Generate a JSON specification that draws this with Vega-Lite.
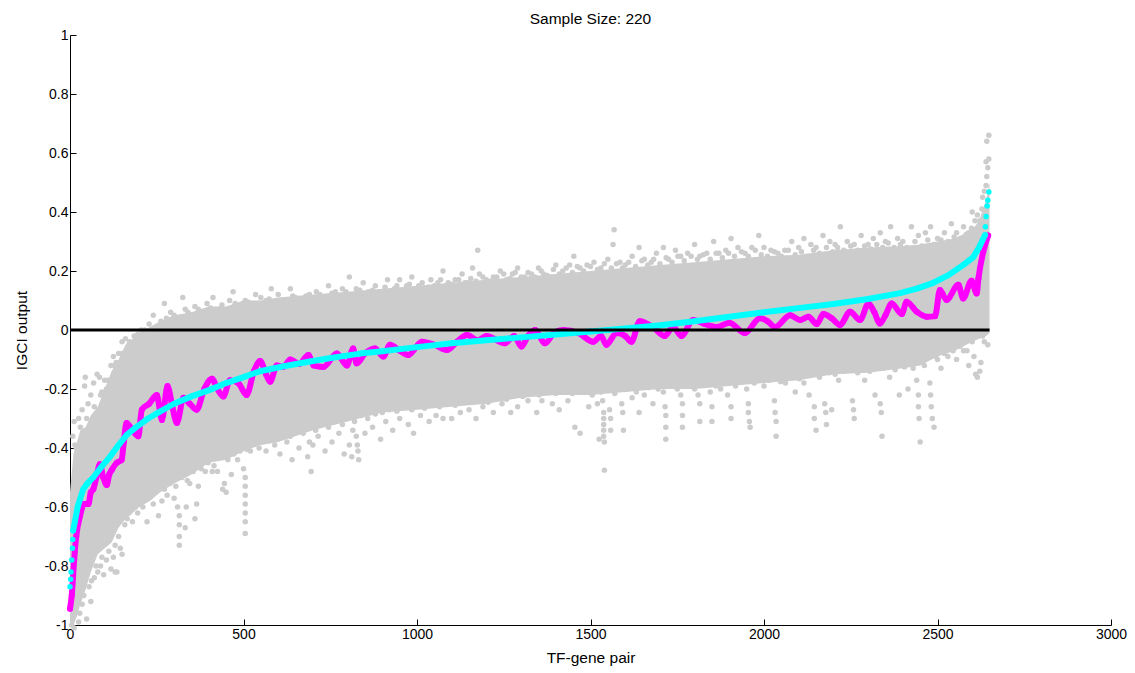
{"$schema":"https://vega.github.io/schema/vega-lite/v6.json","width":1041,"height":590,"autosize":"none","padding":{"left":70,"top":35,"right":24,"bottom":48},"background":"white",
"title":{"text":"Sample Size: 220","font":"Liberation Sans","fontSize":15.5,"fontWeight":"normal","color":"#000","offset":1,"anchor":"middle"},
"config":{"view":{"stroke":null},"axis":{"grid":false,"domainColor":"#000","tickColor":"#000","labelColor":"#000","titleColor":"#000","labelFont":"Liberation Sans","titleFont":"Liberation Sans","labelFontSize":14,"titleFontSize":15.5,"titleFontWeight":"normal","tickSize":-6,"labelPadding":8,"labelFlush":false,"labelOverlap":false}},
"datasets":{
"band":[{"p":0,"lo":-1,"hi":-0.55},{"p":10,"lo":-1,"hi":-0.42},{"p":20,"lo":-0.97,"hi":-0.38},{"p":30,"lo":-0.93,"hi":-0.34},{"p":45,"lo":-0.88,"hi":-0.33},{"p":60,"lo":-0.82,"hi":-0.29},{"p":80,"lo":-0.76,"hi":-0.26},{"p":100,"lo":-0.74,"hi":-0.2},{"p":120,"lo":-0.72,"hi":-0.14},{"p":140,"lo":-0.67,"hi":-0.1},{"p":160,"lo":-0.64,"hi":-0.05},{"p":180,"lo":-0.62,"hi":-0.03},{"p":200,"lo":-0.6,"hi":-0.01},{"p":230,"lo":-0.58,"hi":0.01},{"p":260,"lo":-0.55,"hi":0.03},{"p":300,"lo":-0.52,"hi":0.05},{"p":350,"lo":-0.49,"hi":0.06},{"p":400,"lo":-0.45,"hi":0.08},{"p":450,"lo":-0.44,"hi":0.08},{"p":500,"lo":-0.41,"hi":0.1},{"p":550,"lo":-0.39,"hi":0.1},{"p":600,"lo":-0.38,"hi":0.11},{"p":700,"lo":-0.34,"hi":0.12},{"p":800,"lo":-0.31,"hi":0.13},{"p":900,"lo":-0.28,"hi":0.14},{"p":1000,"lo":-0.27,"hi":0.15},{"p":1100,"lo":-0.26,"hi":0.16},{"p":1200,"lo":-0.25,"hi":0.17},{"p":1300,"lo":-0.23,"hi":0.18},{"p":1400,"lo":-0.22,"hi":0.19},{"p":1500,"lo":-0.22,"hi":0.2},{"p":1600,"lo":-0.21,"hi":0.21},{"p":1700,"lo":-0.2,"hi":0.22},{"p":1800,"lo":-0.2,"hi":0.23},{"p":1900,"lo":-0.19,"hi":0.24},{"p":2000,"lo":-0.18,"hi":0.25},{"p":2100,"lo":-0.17,"hi":0.255},{"p":2200,"lo":-0.15,"hi":0.27},{"p":2300,"lo":-0.145,"hi":0.28},{"p":2400,"lo":-0.13,"hi":0.285},{"p":2450,"lo":-0.12,"hi":0.29},{"p":2500,"lo":-0.09,"hi":0.3},{"p":2550,"lo":-0.07,"hi":0.31},{"p":2600,"lo":-0.04,"hi":0.34},{"p":2620,"lo":-0.03,"hi":0.37},{"p":2640,"lo":-0.02,"hi":0.44},{"p":2650,"lo":-0.01,"hi":0.5}],
"gray":[{"x":8,"y":-0.36},{"x":12,"y":-0.31},{"x":18,"y":-0.4},{"x":25,"y":-0.3},{"x":35,"y":-0.27},{"x":42,"y":-0.19},{"x":44,"y":-0.16},{"x":52,"y":-0.25},{"x":60,"y":-0.22},{"x":68,"y":-0.18},{"x":78,"y":-0.15},{"x":85,"y":-0.16},{"x":92,"y":-0.21},{"x":100,"y":-0.17},{"x":110,"y":-0.17},{"x":118,"y":-0.12},{"x":125,"y":-0.09},{"x":133,"y":-0.11},{"x":140,"y":-0.08},{"x":150,"y":-0.04},{"x":160,"y":-0.03},{"x":170,"y":-0.05},{"x":185,"y":-0.02},{"x":205,"y":0},{"x":228,"y":0.02},{"x":240,"y":0.05},{"x":262,"y":0.03},{"x":272,"y":0.09},{"x":290,"y":0.06},{"x":300,"y":0.05},{"x":325,"y":0.11},{"x":340,"y":0.06},{"x":360,"y":0.08},{"x":378,"y":0.04},{"x":395,"y":0.09},{"x":412,"y":0.11},{"x":430,"y":0.07},{"x":445,"y":0.06},{"x":460,"y":0.1},{"x":470,"y":0.13},{"x":485,"y":0.08},{"x":505,"y":0.1},{"x":520,"y":0.09},{"x":535,"y":0.12},{"x":550,"y":0.11},{"x":565,"y":0.1},{"x":580,"y":0.14},{"x":600,"y":0.12},{"x":615,"y":0.1},{"x":635,"y":0.14},{"x":650,"y":0.11},{"x":670,"y":0.1},{"x":690,"y":0.12},{"x":710,"y":0.13},{"x":730,"y":0.11},{"x":745,"y":0.15},{"x":765,"y":0.13},{"x":785,"y":0.14},{"x":805,"y":0.18},{"x":825,"y":0.14},{"x":845,"y":0.16},{"x":860,"y":0.13},{"x":880,"y":0.15},{"x":900,"y":0.13},{"x":915,"y":0.17},{"x":935,"y":0.14},{"x":950,"y":0.17},{"x":970,"y":0.15},{"x":985,"y":0.18},{"x":1005,"y":0.15},{"x":1025,"y":0.14},{"x":1040,"y":0.17},{"x":1060,"y":0.16},{"x":1075,"y":0.2},{"x":1090,"y":0.16},{"x":1110,"y":0.17},{"x":1130,"y":0.19},{"x":1145,"y":0.16},{"x":1160,"y":0.21},{"x":1175,"y":0.27},{"x":1180,"y":0.19},{"x":1200,"y":0.17},{"x":1220,"y":0.18},{"x":1240,"y":0.2},{"x":1258,"y":0.17},{"x":1275,"y":0.19},{"x":1290,"y":0.21},{"x":1310,"y":0.18},{"x":1330,"y":0.19},{"x":1350,"y":0.21},{"x":1365,"y":0.19},{"x":1385,"y":0.18},{"x":1400,"y":0.22},{"x":1420,"y":0.2},{"x":1440,"y":0.22},{"x":1452,"y":0.25},{"x":1470,"y":0.21},{"x":1490,"y":0.22},{"x":1510,"y":0.23},{"x":1530,"y":0.21},{"x":1550,"y":0.24},{"x":1568,"y":0.34},{"x":1565,"y":0.29},{"x":1585,"y":0.23},{"x":1600,"y":0.22},{"x":1620,"y":0.25},{"x":1640,"y":0.28},{"x":1655,"y":0.24},{"x":1675,"y":0.23},{"x":1690,"y":0.26},{"x":1710,"y":0.28},{"x":1725,"y":0.24},{"x":1745,"y":0.27},{"x":1760,"y":0.25},{"x":1780,"y":0.26},{"x":1800,"y":0.29},{"x":1815,"y":0.25},{"x":1835,"y":0.26},{"x":1855,"y":0.3},{"x":1870,"y":0.26},{"x":1890,"y":0.27},{"x":1905,"y":0.31},{"x":1925,"y":0.28},{"x":1945,"y":0.26},{"x":1965,"y":0.28},{"x":1985,"y":0.32},{"x":2000,"y":0.28},{"x":2020,"y":0.27},{"x":2040,"y":0.26},{"x":2060,"y":0.27},{"x":2080,"y":0.3},{"x":2100,"y":0.28},{"x":2115,"y":0.31},{"x":2135,"y":0.29},{"x":2150,"y":0.28},{"x":2170,"y":0.32},{"x":2190,"y":0.3},{"x":2205,"y":0.29},{"x":2220,"y":0.35},{"x":2240,"y":0.3},{"x":2260,"y":0.29},{"x":2280,"y":0.32},{"x":2300,"y":0.29},{"x":2315,"y":0.31},{"x":2335,"y":0.33},{"x":2350,"y":0.3},{"x":2365,"y":0.35},{"x":2385,"y":0.31},{"x":2400,"y":0.3},{"x":2425,"y":0.35},{"x":2445,"y":0.32},{"x":2465,"y":0.33},{"x":2480,"y":0.35},{"x":2500,"y":0.31},{"x":2520,"y":0.33},{"x":2540,"y":0.36},{"x":2555,"y":0.33},{"x":2575,"y":0.35},{"x":2590,"y":0.33},{"x":2600,"y":0.4},{"x":2608,"y":0.37},{"x":2622,"y":0.37},{"x":2628,"y":0.41},{"x":2630,"y":0.45},{"x":2640,"y":0.49},{"x":2642,"y":0.52},{"x":2645,"y":0.55},{"x":2640,"y":0.57},{"x":2648,"y":0.58},{"x":2648,"y":0.66},{"x":2642,"y":0.64},
{"x":5,"y":-1},{"x":12,"y":-1.01},{"x":25,"y":-0.99},{"x":28,"y":-0.96},{"x":48,"y":-0.98},{"x":35,"y":-0.93},{"x":60,"y":-0.92},{"x":55,"y":-0.87},{"x":70,"y":-0.84},{"x":80,"y":-0.82},{"x":88,"y":-0.8},{"x":97,"y":-0.83},{"x":118,"y":-0.81},{"x":130,"y":-0.82},{"x":135,"y":-0.82},{"x":105,"y":-0.78},{"x":125,"y":-0.77},{"x":145,"y":-0.74},{"x":150,"y":-0.76},{"x":170,"y":-0.62},{"x":180,"y":-0.65},{"x":195,"y":-0.62},{"x":210,"y":-0.6},{"x":222,"y":-0.65},{"x":240,"y":-0.59},{"x":255,"y":-0.63},{"x":265,"y":-0.58},{"x":280,"y":-0.56},{"x":310,"y":-0.6},{"x":315,"y":-0.63},{"x":315,"y":-0.66},{"x":315,"y":-0.7},{"x":315,"y":-0.73},{"x":335,"y":-0.6},{"x":332,"y":-0.67},{"x":365,"y":-0.59},{"x":360,"y":-0.64},{"x":300,"y":-0.57},{"x":345,"y":-0.52},{"x":370,"y":-0.53},{"x":390,"y":-0.48},{"x":410,"y":-0.48},{"x":425,"y":-0.48},{"x":440,"y":-0.54},{"x":450,"y":-0.55},{"x":445,"y":-0.52},{"x":465,"y":-0.49},{"x":483,"y":-0.44},{"x":500,"y":-0.47},{"x":505,"y":-0.5},{"x":505,"y":-0.53},{"x":505,"y":-0.56},{"x":505,"y":-0.59},{"x":505,"y":-0.62},{"x":505,"y":-0.65},{"x":505,"y":-0.69},{"x":520,"y":-0.41},{"x":545,"y":-0.4},{"x":565,"y":-0.41},{"x":590,"y":-0.39},{"x":605,"y":-0.42},{"x":625,"y":-0.38},{"x":640,"y":-0.44},{"x":660,"y":-0.4},{"x":690,"y":-0.38},{"x":695,"y":-0.48},{"x":685,"y":-0.43},{"x":700,"y":-0.39},{"x":715,"y":-0.36},{"x":735,"y":-0.41},{"x":755,"y":-0.38},{"x":775,"y":-0.35},{"x":790,"y":-0.42},{"x":805,"y":-0.39},{"x":815,"y":-0.34},{"x":812,"y":-0.43},{"x":825,"y":-0.36},{"x":828,"y":-0.39},{"x":830,"y":-0.41},{"x":832,"y":-0.44},{"x":850,"y":-0.35},{"x":872,"y":-0.33},{"x":895,"y":-0.37},{"x":910,"y":-0.31},{"x":930,"y":-0.34},{"x":950,"y":-0.3},{"x":975,"y":-0.32},{"x":990,"y":-0.35},{"x":1010,"y":-0.29},{"x":1035,"y":-0.31},{"x":1055,"y":-0.29},{"x":1075,"y":-0.3},{"x":1100,"y":-0.3},{"x":1125,"y":-0.28},{"x":1150,"y":-0.27},{"x":1170,"y":-0.3},{"x":1190,"y":-0.26},{"x":1220,"y":-0.28},{"x":1245,"y":-0.25},{"x":1270,"y":-0.28},{"x":1290,"y":-0.26},{"x":1320,"y":-0.24},{"x":1345,"y":-0.28},{"x":1360,"y":-0.24},{"x":1390,"y":-0.25},{"x":1410,"y":-0.27},{"x":1435,"y":-0.24},{"x":1455,"y":-0.33},{"x":1470,"y":-0.35},{"x":1495,"y":-0.26},{"x":1520,"y":-0.25},{"x":1535,"y":-0.24},{"x":1538,"y":-0.28},{"x":1538,"y":-0.3},{"x":1538,"y":-0.32},{"x":1538,"y":-0.34},{"x":1538,"y":-0.36},{"x":1540,"y":-0.38},{"x":1555,"y":-0.27},{"x":1558,"y":-0.3},{"x":1558,"y":-0.34},{"x":1525,"y":-0.37},{"x":1540,"y":-0.475},{"x":1590,"y":-0.25},{"x":1593,"y":-0.28},{"x":1595,"y":-0.34},{"x":1620,"y":-0.23},{"x":1640,"y":-0.28},{"x":1655,"y":-0.22},{"x":1680,"y":-0.25},{"x":1710,"y":-0.21},{"x":1715,"y":-0.26},{"x":1717,"y":-0.29},{"x":1717,"y":-0.33},{"x":1717,"y":-0.37},{"x":1760,"y":-0.22},{"x":1765,"y":-0.25},{"x":1765,"y":-0.29},{"x":1765,"y":-0.33},{"x":1810,"y":-0.22},{"x":1815,"y":-0.25},{"x":1815,"y":-0.31},{"x":1845,"y":-0.21},{"x":1850,"y":-0.26},{"x":1850,"y":-0.31},{"x":1875,"y":-0.2},{"x":1895,"y":-0.22},{"x":1905,"y":-0.26},{"x":1905,"y":-0.3},{"x":1950,"y":-0.2},{"x":1955,"y":-0.25},{"x":1955,"y":-0.28},{"x":1958,"y":-0.31},{"x":1960,"y":-0.33},{"x":2000,"y":-0.19},{"x":2030,"y":-0.24},{"x":2032,"y":-0.28},{"x":2035,"y":-0.31},{"x":2035,"y":-0.36},{"x":2062,"y":-0.18},{"x":2090,"y":-0.21},{"x":2115,"y":-0.18},{"x":2130,"y":-0.22},{"x":2145,"y":-0.26},{"x":2145,"y":-0.3},{"x":2150,"y":-0.34},{"x":2175,"y":-0.25},{"x":2178,"y":-0.28},{"x":2180,"y":-0.32},{"x":2195,"y":-0.27},{"x":2215,"y":-0.17},{"x":2255,"y":-0.24},{"x":2258,"y":-0.27},{"x":2260,"y":-0.3},{"x":2290,"y":-0.17},{"x":2320,"y":-0.22},{"x":2335,"y":-0.25},{"x":2338,"y":-0.28},{"x":2340,"y":-0.36},{"x":2362,"y":-0.16},{"x":2390,"y":-0.22},{"x":2415,"y":-0.2},{"x":2440,"y":-0.17},{"x":2445,"y":-0.22},{"x":2445,"y":-0.26},{"x":2447,"y":-0.3},{"x":2450,"y":-0.38},{"x":2478,"y":-0.18},{"x":2480,"y":-0.22},{"x":2482,"y":-0.26},{"x":2485,"y":-0.3},{"x":2490,"y":-0.33},{"x":2500,"y":-0.1},{"x":2510,"y":-0.13},{"x":2530,"y":-0.09},{"x":2555,"y":-0.1},{"x":2575,"y":-0.07},{"x":2590,"y":-0.12},{"x":2605,"y":-0.09},{"x":2610,"y":-0.15},{"x":2615,"y":-0.16},{"x":2622,"y":-0.14},{"x":2625,"y":-0.11},{"x":2635,"y":-0.04},{"x":2645,"y":-0.05},
{"x":14,"y":-0.39},{"x":30,"y":-0.33},{"x":48,"y":-0.3},{"x":70,"y":-0.26},{"x":88,"y":-0.22},{"x":105,"y":-0.2},{"x":128,"y":-0.12},{"x":150,"y":-0.08},{"x":172,"y":-0.04},{"x":195,"y":-0.015},{"x":215,"y":0},{"x":250,"y":0.01},{"x":278,"y":0.04},{"x":315,"y":0.04},{"x":332,"y":0.07},{"x":350,"y":0.05},{"x":370,"y":0.07},{"x":388,"y":0.06},{"x":405,"y":0.075},{"x":422,"y":0.06},{"x":438,"y":0.085},{"x":455,"y":0.07},{"x":476,"y":0.09},{"x":495,"y":0.08},{"x":512,"y":0.095},{"x":528,"y":0.08},{"x":542,"y":0.09},{"x":558,"y":0.085},{"x":574,"y":0.105},{"x":590,"y":0.09},{"x":608,"y":0.1},{"x":625,"y":0.095},{"x":642,"y":0.115},{"x":660,"y":0.1},{"x":680,"y":0.115},{"x":700,"y":0.1},{"x":720,"y":0.12},{"x":738,"y":0.105},{"x":755,"y":0.125},{"x":775,"y":0.11},{"x":795,"y":0.13},{"x":815,"y":0.115},{"x":835,"y":0.135},{"x":855,"y":0.12},{"x":872,"y":0.135},{"x":890,"y":0.125},{"x":908,"y":0.145},{"x":925,"y":0.13},{"x":942,"y":0.15},{"x":960,"y":0.135},{"x":978,"y":0.155},{"x":996,"y":0.14},{"x":1015,"y":0.16},{"x":1033,"y":0.145},{"x":1050,"y":0.15},{"x":1068,"y":0.17},{"x":1082,"y":0.15},{"x":1100,"y":0.155},{"x":1120,"y":0.17},{"x":1138,"y":0.16},{"x":1155,"y":0.175},{"x":1170,"y":0.165},{"x":1190,"y":0.18},{"x":1210,"y":0.165},{"x":1230,"y":0.18},{"x":1250,"y":0.19},{"x":1268,"y":0.175},{"x":1283,"y":0.195},{"x":1300,"y":0.18},{"x":1320,"y":0.195},{"x":1340,"y":0.18},{"x":1358,"y":0.2},{"x":1375,"y":0.185},{"x":1393,"y":0.205},{"x":1410,"y":0.19},{"x":1430,"y":0.21},{"x":1448,"y":0.195},{"x":1462,"y":0.215},{"x":1480,"y":0.2},{"x":1500,"y":0.215},{"x":1520,"y":0.205},{"x":1540,"y":0.225},{"x":1560,"y":0.21},{"x":1575,"y":0.225},{"x":1592,"y":0.21},{"x":1610,"y":0.23},{"x":1630,"y":0.215},{"x":1648,"y":0.235},{"x":1665,"y":0.22},{"x":1682,"y":0.24},{"x":1700,"y":0.225},{"x":1718,"y":0.245},{"x":1735,"y":0.23},{"x":1752,"y":0.25},{"x":1770,"y":0.235},{"x":1790,"y":0.25},{"x":1808,"y":0.24},{"x":1825,"y":0.255},{"x":1845,"y":0.24},{"x":1862,"y":0.26},{"x":1880,"y":0.245},{"x":1898,"y":0.26},{"x":1915,"y":0.25},{"x":1935,"y":0.265},{"x":1955,"y":0.25},{"x":1975,"y":0.27},{"x":1992,"y":0.255},{"x":2010,"y":0.25},{"x":2030,"y":0.265},{"x":2050,"y":0.25},{"x":2070,"y":0.27},{"x":2090,"y":0.255},{"x":2108,"y":0.265},{"x":2125,"y":0.25},{"x":2143,"y":0.27},{"x":2160,"y":0.26},{"x":2180,"y":0.28},{"x":2198,"y":0.265},{"x":2212,"y":0.28},{"x":2230,"y":0.27},{"x":2250,"y":0.285},{"x":2270,"y":0.27},{"x":2290,"y":0.285},{"x":2308,"y":0.275},{"x":2325,"y":0.29},{"x":2342,"y":0.28},{"x":2358,"y":0.295},{"x":2375,"y":0.28},{"x":2393,"y":0.29},{"x":2412,"y":0.28},{"x":2435,"y":0.3},{"x":2455,"y":0.285},{"x":2472,"y":0.305},{"x":2490,"y":0.29},{"x":2510,"y":0.305},{"x":2530,"y":0.3},{"x":2548,"y":0.315},{"x":2565,"y":0.31},{"x":2583,"y":0.325},{"x":2598,"y":0.345},{"x":2615,"y":0.39},{"x":2635,"y":0.47},
{"x":40,"y":-0.9},{"x":62,"y":-0.85},{"x":75,"y":-0.8},{"x":92,"y":-0.77},{"x":112,"y":-0.75},{"x":130,"y":-0.73},{"x":140,"y":-0.7},{"x":158,"y":-0.66},{"x":165,"y":-0.64},{"x":176,"y":-0.61},{"x":188,"y":-0.6},{"x":202,"y":-0.59},{"x":216,"y":-0.57},{"x":232,"y":-0.565},{"x":246,"y":-0.55},{"x":272,"y":-0.54},{"x":288,"y":-0.52},{"x":305,"y":-0.53},{"x":322,"y":-0.5},{"x":338,"y":-0.51},{"x":355,"y":-0.48},{"x":378,"y":-0.47},{"x":398,"y":-0.45},{"x":415,"y":-0.46},{"x":432,"y":-0.43},{"x":455,"y":-0.44},{"x":472,"y":-0.42},{"x":490,"y":-0.41},{"x":510,"y":-0.405},{"x":530,"y":-0.385},{"x":552,"y":-0.38},{"x":575,"y":-0.375},{"x":598,"y":-0.37},{"x":615,"y":-0.355},{"x":635,"y":-0.36},{"x":652,"y":-0.345},{"x":672,"y":-0.35},{"x":692,"y":-0.33},{"x":708,"y":-0.34},{"x":725,"y":-0.32},{"x":745,"y":-0.33},{"x":765,"y":-0.31},{"x":785,"y":-0.32},{"x":800,"y":-0.3},{"x":820,"y":-0.31},{"x":838,"y":-0.29},{"x":858,"y":-0.3},{"x":880,"y":-0.285},{"x":900,"y":-0.28},{"x":920,"y":-0.27},{"x":942,"y":-0.275},{"x":960,"y":-0.26},{"x":985,"y":-0.27},{"x":1002,"y":-0.255},{"x":1022,"y":-0.265},{"x":1045,"y":-0.25},{"x":1065,"y":-0.26},{"x":1085,"y":-0.245},{"x":1110,"y":-0.255},{"x":1135,"y":-0.24},{"x":1160,"y":-0.245},{"x":1180,"y":-0.235},{"x":1205,"y":-0.245},{"x":1232,"y":-0.23},{"x":1258,"y":-0.235},{"x":1280,"y":-0.22},{"x":1305,"y":-0.225},{"x":1332,"y":-0.215},{"x":1352,"y":-0.22},{"x":1375,"y":-0.21},{"x":1400,"y":-0.215},{"x":1422,"y":-0.205},{"x":1448,"y":-0.215},{"x":1478,"y":-0.21},{"x":1505,"y":-0.22},{"x":1530,"y":-0.21},{"x":1570,"y":-0.215},{"x":1605,"y":-0.2},{"x":1632,"y":-0.21},{"x":1668,"y":-0.195},{"x":1695,"y":-0.2},{"x":1730,"y":-0.19},{"x":1750,"y":-0.2},{"x":1785,"y":-0.19},{"x":1800,"y":-0.2},{"x":1830,"y":-0.185},{"x":1862,"y":-0.19},{"x":1885,"y":-0.175},{"x":1918,"y":-0.19},{"x":1938,"y":-0.175},{"x":1972,"y":-0.18},{"x":2015,"y":-0.17},{"x":2048,"y":-0.175},{"x":2078,"y":-0.16},{"x":2102,"y":-0.165},{"x":2135,"y":-0.15},{"x":2160,"y":-0.16},{"x":2188,"y":-0.145},{"x":2205,"y":-0.15},{"x":2232,"y":-0.14},{"x":2270,"y":-0.145},{"x":2305,"y":-0.14},{"x":2345,"y":-0.13},{"x":2378,"y":-0.135},{"x":2405,"y":-0.125},{"x":2430,"y":-0.13},{"x":2462,"y":-0.12},{"x":2495,"y":-0.09},{"x":2520,"y":-0.08},{"x":2545,"y":-0.07},{"x":2565,"y":-0.055},{"x":2585,"y":-0.07},{"x":2600,"y":-0.04},{"x":2630,"y":-0.02}],
"magenta":[{"x":0,"y":-0.945},{"x":5,"y":-0.9},{"x":12,"y":-0.78},{"x":18,"y":-0.7},{"x":29,"y":-0.63},{"x":40,"y":-0.59},{"x":53,"y":-0.59},{"x":60,"y":-0.55},{"x":67,"y":-0.54},{"x":76,"y":-0.5},{"x":86,"y":-0.455},{"x":96,"y":-0.5},{"x":106,"y":-0.525},{"x":113,"y":-0.49},{"x":120,"y":-0.475},{"x":135,"y":-0.45},{"x":149,"y":-0.44},{"x":155,"y":-0.38},{"x":163,"y":-0.315},{"x":180,"y":-0.34},{"x":197,"y":-0.36},{"x":207,"y":-0.27},{"x":228,"y":-0.25},{"x":250,"y":-0.22},{"x":265,"y":-0.305},{"x":281,"y":-0.19},{"x":295,"y":-0.26},{"x":308,"y":-0.315},{"x":327,"y":-0.23},{"x":345,"y":-0.25},{"x":365,"y":-0.27},{"x":387,"y":-0.2},{"x":409,"y":-0.165},{"x":425,"y":-0.2},{"x":442,"y":-0.225},{"x":461,"y":-0.17},{"x":485,"y":-0.18},{"x":509,"y":-0.22},{"x":530,"y":-0.14},{"x":548,"y":-0.105},{"x":565,"y":-0.15},{"x":577,"y":-0.175},{"x":596,"y":-0.12},{"x":615,"y":-0.125},{"x":635,"y":-0.1},{"x":660,"y":-0.115},{"x":687,"y":-0.085},{"x":702,"y":-0.12},{"x":730,"y":-0.125},{"x":769,"y":-0.08},{"x":798,"y":-0.12},{"x":816,"y":-0.063},{"x":826,"y":-0.113},{"x":850,"y":-0.08},{"x":879,"y":-0.063},{"x":903,"y":-0.09},{"x":922,"y":-0.05},{"x":950,"y":-0.07},{"x":975,"y":-0.085},{"x":1014,"y":-0.04},{"x":1050,"y":-0.05},{"x":1086,"y":-0.068},{"x":1115,"y":-0.04},{"x":1144,"y":-0.017},{"x":1175,"y":-0.035},{"x":1200,"y":-0.02},{"x":1253,"y":-0.045},{"x":1280,"y":-0.02},{"x":1301,"y":-0.056},{"x":1320,"y":-0.02},{"x":1340,"y":0},{"x":1369,"y":-0.045},{"x":1395,"y":-0.01},{"x":1422,"y":0},{"x":1465,"y":-0.01},{"x":1508,"y":-0.04},{"x":1530,"y":-0.02},{"x":1546,"y":-0.05},{"x":1575,"y":-0.01},{"x":1600,"y":-0.02},{"x":1618,"y":-0.04},{"x":1642,"y":0.03},{"x":1680,"y":0.01},{"x":1714,"y":-0.02},{"x":1738,"y":0.01},{"x":1762,"y":-0.02},{"x":1796,"y":0.034},{"x":1830,"y":0.02},{"x":1864,"y":0.01},{"x":1900,"y":0.025},{"x":1945,"y":-0.01},{"x":1988,"y":0.04},{"x":2010,"y":0.03},{"x":2032,"y":0.01},{"x":2075,"y":0.05},{"x":2104,"y":0.034},{"x":2128,"y":0.045},{"x":2152,"y":0.02},{"x":2171,"y":0.054},{"x":2195,"y":0.04},{"x":2219,"y":0.017},{"x":2248,"y":0.062},{"x":2277,"y":0.034},{"x":2301,"y":0.09},{"x":2318,"y":0.06},{"x":2334,"y":0.022},{"x":2350,"y":0.05},{"x":2368,"y":0.09},{"x":2397,"y":0.054},{"x":2411,"y":0.096},{"x":2440,"y":0.062},{"x":2469,"y":0.045},{"x":2493,"y":0.047},{"x":2507,"y":0.136},{"x":2526,"y":0.102},{"x":2560,"y":0.153},{"x":2574,"y":0.107},{"x":2598,"y":0.167},{"x":2613,"y":0.124},{"x":2618,"y":0.175},{"x":2632,"y":0.266},{"x":2646,"y":0.32}],
"cyan":[{"x":0,"y":-0.87},{"x":2,"y":-0.845},{"x":3,"y":-0.82},{"x":5,"y":-0.78},{"x":7,"y":-0.74},{"x":8,"y":-0.71},{"x":9,"y":-0.68},{"x":14,"y":-0.65},{"x":22,"y":-0.6},{"x":30,"y":-0.57},{"x":38,"y":-0.54},{"x":50,"y":-0.52},{"x":67,"y":-0.5},{"x":90,"y":-0.465},{"x":115,"y":-0.43},{"x":140,"y":-0.39},{"x":163,"y":-0.356},{"x":190,"y":-0.33},{"x":225,"y":-0.3},{"x":259,"y":-0.277},{"x":300,"y":-0.25},{"x":350,"y":-0.225},{"x":403,"y":-0.203},{"x":450,"y":-0.18},{"x":500,"y":-0.16},{"x":547,"y":-0.14},{"x":620,"y":-0.122},{"x":692,"y":-0.107},{"x":760,"y":-0.093},{"x":836,"y":-0.08},{"x":900,"y":-0.072},{"x":1000,"y":-0.058},{"x":1100,"y":-0.045},{"x":1200,"y":-0.035},{"x":1300,"y":-0.025},{"x":1400,"y":-0.015},{"x":1500,"y":-0.005},{"x":1600,"y":0.005},{"x":1700,"y":0.016},{"x":1800,"y":0.03},{"x":1900,"y":0.045},{"x":2000,"y":0.06},{"x":2104,"y":0.075},{"x":2200,"y":0.088},{"x":2300,"y":0.105},{"x":2392,"y":0.125},{"x":2440,"y":0.14},{"x":2488,"y":0.16},{"x":2530,"y":0.185},{"x":2574,"y":0.22},{"x":2603,"y":0.247},{"x":2620,"y":0.28},{"x":2637,"y":0.322},{"x":2638,"y":0.35},{"x":2640,"y":0.385},{"x":2643,"y":0.42},{"x":2645,"y":0.44},{"x":2648,"y":0.468}],
"zero":[{"x":0,"y":0},{"x":2650,"y":0}]},
"layer":[
{"data":{"name":"band"},"mark":{"type":"area","color":"#cccccc"},"encoding":{"x":{"field":"p","type":"quantitative","scale":{"domain":[0,3000],"nice":false},"axis":{"title":"TF-gene pair","values":[0,500,1000,1500,2000,2500,3000],"labelExpr":"''+datum.value","titlePadding":9}},"y":{"field":"lo","type":"quantitative","scale":{"domain":[-1,1],"nice":false},"axis":{"title":"IGCI output","values":[-1,-0.8,-0.6,-0.4,-0.2,0,0.2,0.4,0.6,0.8,1],"labelExpr":"''+datum.value","titlePadding":14}},"y2":{"field":"hi"}}},
{"data":{"name":"gray"},"mark":{"type":"circle","color":"#cccccc","opacity":1,"size":30,"clip":false},"encoding":{"x":{"field":"x","type":"quantitative"},"y":{"field":"y","type":"quantitative"}}},
{"data":{"name":"magenta"},"mark":{"type":"line","color":"#ff00ff","strokeWidth":6,"interpolate":"monotone","strokeJoin":"round","strokeCap":"round"},"encoding":{"x":{"field":"x","type":"quantitative"},"y":{"field":"y","type":"quantitative"}}},
{"data":{"name":"magenta"},"mark":{"type":"circle","color":"#ff00ff","opacity":1,"size":36},"encoding":{"x":{"field":"x","type":"quantitative"},"y":{"field":"y","type":"quantitative"}}},
{"data":{"name":"cyan"},"transform":[{"filter":"datum.x>=9 && datum.x<=2637"}],"mark":{"type":"line","color":"#00ffff","strokeWidth":6,"strokeJoin":"round","strokeCap":"round"},"encoding":{"x":{"field":"x","type":"quantitative"},"y":{"field":"y","type":"quantitative"}}},
{"data":{"name":"cyan"},"mark":{"type":"circle","color":"#00ffff","opacity":1,"size":30},"encoding":{"x":{"field":"x","type":"quantitative"},"y":{"field":"y","type":"quantitative"}}},
{"data":{"name":"zero"},"mark":{"type":"line","color":"#000000","strokeWidth":3},"encoding":{"x":{"field":"x","type":"quantitative"},"y":{"field":"y","type":"quantitative"}}}
]}
